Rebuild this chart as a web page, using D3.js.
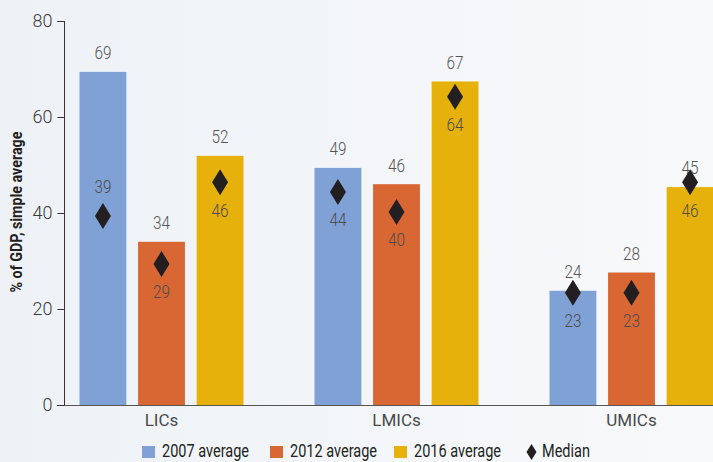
<!DOCTYPE html>
<html>
<head>
<meta charset="utf-8">
<script src="https://cdn.jsdelivr.net/npm/d3@7"></script>
<style>
  html, body { margin: 0; padding: 0; background: #f5f7fa; }
  svg { display: block; }
  text { font-family: "Roboto", "Liberation Sans", sans-serif; }
</style>
</head>
<body>
<svg id="chart" width="713" height="462"></svg>
<script>
// ---- data ----
const categories = ["LICs", "LMICs", "UMICs"];
const seriesNames = ["2007 average", "2012 average", "2016 average"];
const avg2007 = [69.4, 49.4, 23.8];
const avg2012 = [34.0, 46.0, 27.6];
const avg2016 = [51.9, 67.4, 45.4];
const med2007 = [39.4, 44.4, 23.4];
const med2012 = [29.4, 40.2, 23.4];
const med2016 = [46.4, 64.2, 46.4];
const yTicks = [0, 20, 40, 60, 80];
const yTitle = "% of GDP, simple average";
const colors = ["#7fa1d6", "#d86734", "#e7b10b"];
const medianLabel = "Median";
// label above diamond for these (category index, series index)
const medianLabelAbove = [[0, 0]];

const avgs = [avg2007, avg2012, avg2016];
const meds = [med2007, med2012, med2016];

const rows = [];
categories.forEach((c, ci) => {
  seriesNames.forEach((s, si) => {
    rows.push({cat: c, ci, series: s, si, avg: avgs[si][ci], med: meds[si][ci]});
  });
});

const svg = d3.select("#chart");
const W = 713, H = 462;

// background gradient
const defs = svg.append("defs");
const grad = defs.append("linearGradient").attr("id", "bg").attr("x1", 0).attr("x2", 1).attr("y1", 0).attr("y2", 0);
grad.append("stop").attr("offset", "0%").attr("stop-color", "#eef2f6");
grad.append("stop").attr("offset", "100%").attr("stop-color", "#f8f9fb");
svg.append("rect").attr("width", W).attr("height", H).attr("fill", "url(#bg)");

const y = d3.scaleLinear().domain([0, 80]).range([405, 21]);
const x0 = d3.scaleBand().domain(categories).range([44, 749]);
const groupW = 164;
const x1 = d3.scaleBand().domain(seriesNames).range([0, groupW]).paddingInner(0.2);

const barX = d => x0(d.cat) + x0.bandwidth() / 2 - groupW / 2 + x1(d.series);

// bars
svg.append("g").selectAll("rect").data(rows).join("rect")
  .attr("x", barX)
  .attr("y", d => y(d.avg))
  .attr("width", x1.bandwidth())
  .attr("height", d => y(0) - y(d.avg))
  .attr("fill", d => colors[d.si]);

// bar value labels
svg.append("g").selectAll("text").data(rows).join("text")
  .attr("x", d => barX(d) + x1.bandwidth() / 2 - 8.5)
  .attr("y", d => y(d.avg) - 19)
  .attr("dy", "0.35em")
  .attr("font-size", 18)
  .attr("font-weight", 300)
  .attr("fill", "#555555")
  .attr("textLength", 17).attr("lengthAdjust", "spacingAndGlyphs")
  .text(d => d3.format(".0f")(d.avg));

// median diamonds
const diamond = (cx, cy, hw, hh) => `M${cx},${cy - hh}L${cx + hw},${cy}L${cx},${cy + hh}L${cx - hw},${cy}Z`;
svg.append("g").selectAll("path").data(rows).join("path")
  .attr("d", d => diamond(barX(d) + x1.bandwidth() / 2, y(d.med), 8, 13))
  .attr("fill", "#231f20");

// median labels
const isAbove = d => medianLabelAbove.some(p => p[0] === d.ci && p[1] === d.si);
svg.append("g").selectAll("text").data(rows).join("text")
  .attr("x", d => barX(d) + x1.bandwidth() / 2 - 8.5)
  .attr("y", d => y(d.med) + (isAbove(d) ? -29 : 28))
  .attr("dy", "0.35em")
  .attr("font-size", 18)
  .attr("font-weight", 300)
  .attr("fill", "#4d4d4d")
  .attr("textLength", 17).attr("lengthAdjust", "spacingAndGlyphs")
  .text(d => d3.format(".0f")(d.med));

// x baseline
svg.append("line")
  .attr("x1", 57).attr("x2", W)
  .attr("y1", y(0) + 0.5).attr("y2", y(0) + 0.5)
  .attr("stroke", "#555").attr("stroke-width", 1.2);

// y axis
const yAxis = svg.append("g")
  .attr("transform", "translate(64.5,0)")
  .call(d3.axisLeft(y).tickValues(yTicks).tickSize(7).tickPadding(5));
yAxis.select(".domain").attr("stroke", "#333").attr("d", `M-7,${y(80) + 0.5}H0V${y(0) + 0.5}`);
yAxis.selectAll(".tick line").attr("stroke", "#333");
yAxis.selectAll(".tick text").attr("font-size", 18).attr("font-weight", 300).attr("fill", "#3a3a3a")
  .style("font-family", 'Roboto, sans-serif');

// category labels
svg.append("g").selectAll("text").data(categories).join("text")
  .attr("x", d => x0(d) + x0.bandwidth() / 2)
  .attr("y", 420)
  .attr("dy", "0.35em")
  .attr("text-anchor", "middle")
  .attr("font-size", 17)
  .attr("fill", "#4a4a4a")
  .text(d => d);

// y title
svg.append("text")
  .attr("transform", `translate(16,212) rotate(-90)`)
  .attr("text-anchor", "middle")
  .attr("dy", "0.35em")
  .attr("font-size", 17)
  .attr("font-weight", "bold")
  .attr("fill", "#231f20")
  .attr("textLength", 161)
  .attr("lengthAdjust", "spacingAndGlyphs")
  .text(yTitle);

// legend
const legendX = [142, 270, 394];
const lg = svg.append("g");
seriesNames.forEach((s, i) => {
  lg.append("rect").attr("x", legendX[i]).attr("y", 446).attr("width", 13).attr("height", 12).attr("fill", colors[i]);
  lg.append("text").attr("x", legendX[i] + 20).attr("y", 451).attr("dy", "0.35em")
    .attr("font-size", 18).attr("fill", "#231f20")
    .attr("textLength", 87).attr("lengthAdjust", "spacingAndGlyphs")
    .text(s);
});
lg.append("path").attr("d", diamond(531.5, 452, 5, 8)).attr("fill", "#231f20");
lg.append("text").attr("x", 542).attr("y", 451).attr("dy", "0.35em")
  .attr("font-size", 18).attr("fill", "#231f20")
  .attr("textLength", 48).attr("lengthAdjust", "spacingAndGlyphs")
  .text(medianLabel);
</script>
</body>
</html>
